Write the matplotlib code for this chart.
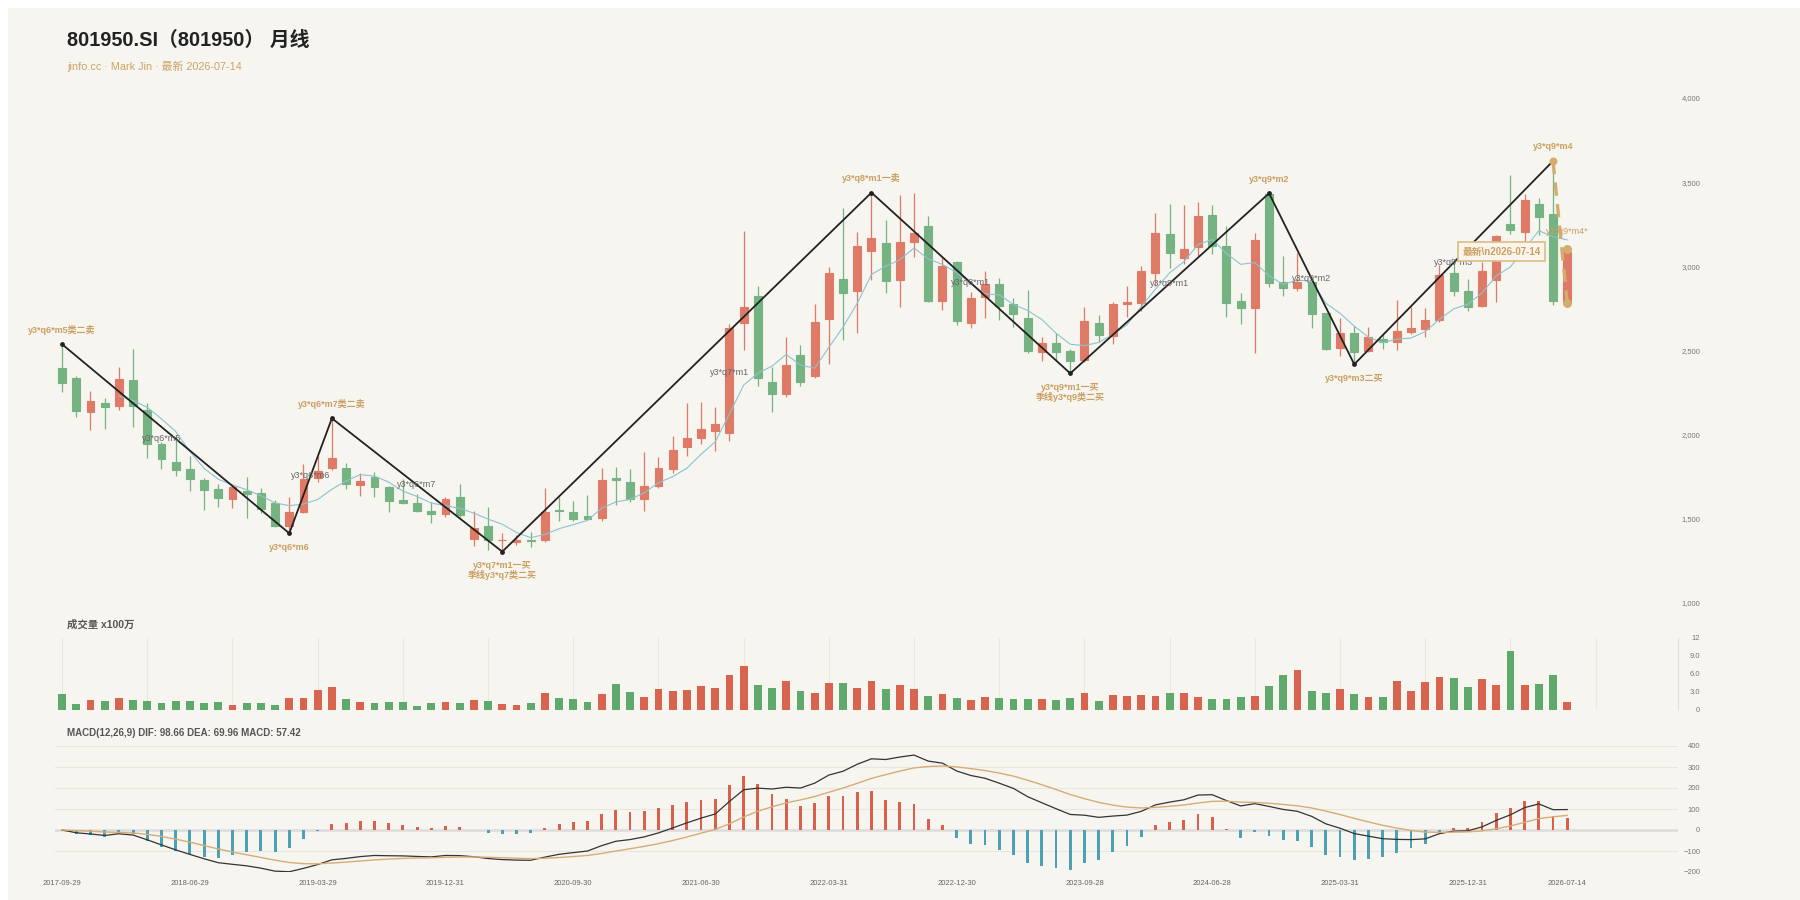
import numpy as np
import pandas as pd
import matplotlib
matplotlib.use('Agg')
import matplotlib.pyplot as plt
from matplotlib.patches import Rectangle
from matplotlib.ticker import FuncFormatter

plt.rcParams['font.family'] = ['Liberation Sans', 'Noto Sans CJK SC', 'DejaVu Sans']

# 月线 OHLC (2017-09 ~ 2026-07)
opens = [2394, 2335, 2137, 2188, 2172, 2325, 2147, 1945, 1840, 1794,
         1731, 1677, 1618, 1667, 1656, 1596, 1460, 1543, 1745, 1800,
         1800, 1699, 1750, 1687, 1612, 1592, 1547, 1529, 1628, 1378,
         1458, 1372, 1361, 1376, 1374, 1553, 1543, 1519, 1503, 1741,
         1721, 1616, 1697, 1796, 1929, 1978, 2024, 2012, 2661, 2826,
         2313, 2242, 2473, 2351, 2685, 2925, 2856, 3093, 3141, 2919,
         3147, 3240, 2796, 3028, 2665, 2816, 2893, 2778, 2691, 2489,
         2543, 2497, 2444, 2661, 2588, 2776, 2784, 2958, 3192, 3049,
         3117, 3305, 3121, 2796, 2751, 3430, 2905, 2869, 2909, 2725,
         2517, 2602, 2499, 2568, 2549, 2612, 2626, 2681, 2958, 2856,
         2766, 2919, 3251, 3206, 3368, 3309, 2784]
highs = [2537, 2349, 2262, 2220, 2400, 2509, 2186, 1959, 1988, 1873,
         1741, 1705, 1695, 1747, 1681, 1612, 1628, 1826, 1873, 2097,
         1830, 1774, 1780, 1695, 1735, 1646, 1602, 1628, 1707, 1547,
         1569, 1414, 1404, 1424, 1681, 1632, 1606, 1642, 1800, 1810,
         1794, 1899, 1869, 1992, 2186, 2196, 2163, 2658, 3212, 2885,
         2404, 2582, 2533, 2776, 2998, 3345, 3206, 3438, 3275, 3424,
         3434, 3299, 3057, 3034, 2850, 2972, 2929, 2810, 2859, 2578,
         2602, 2509, 2760, 2711, 2790, 2885, 3002, 3319, 3370, 3364,
         3380, 3364, 3240, 2840, 3200, 3434, 3061, 3081, 2919, 2725,
         2691, 2646, 2642, 2602, 2800, 2757, 2751, 3008, 3022, 2923,
         3028, 3186, 3543, 3430, 3404, 3626, 3101]
lows = [2252, 2103, 2028, 2036, 2147, 2044, 1860, 1794, 1755, 1667,
        1553, 1572, 1563, 1507, 1533, 1450, 1414, 1533, 1720, 1790,
        1675, 1636, 1632, 1539, 1586, 1539, 1473, 1513, 1510, 1339,
        1315, 1305, 1345, 1331, 1364, 1487, 1489, 1493, 1487, 1582,
        1602, 1547, 1681, 1770, 1875, 1945, 1905, 1964, 2503, 2291,
        2137, 2226, 2291, 2335, 2420, 2563, 2602, 2919, 2844, 2761,
        3054, 2786, 2741, 2652, 2632, 2695, 2681, 2638, 2487, 2438,
        2444, 2364, 2434, 2553, 2537, 2701, 2737, 2885, 2992, 3014,
        3061, 3071, 2701, 2657, 2487, 2879, 2826, 2856, 2636, 2503,
        2469, 2418, 2489, 2509, 2503, 2598, 2578, 2671, 2826, 2737,
        2761, 2790, 3192, 3147, 3186, 2770, 2780]
closes = [2309, 2143, 2200, 2165, 2331, 2172, 1945, 1856, 1790, 1737,
          1671, 1622, 1687, 1648, 1557, 1460, 1539, 1735, 1784, 1860,
          1707, 1727, 1691, 1606, 1592, 1549, 1529, 1618, 1523, 1448,
          1374, 1376, 1374, 1369, 1543, 1545, 1497, 1499, 1731, 1731,
          1618, 1695, 1800, 1909, 1982, 2032, 2066, 2632, 2760, 2339,
          2240, 2414, 2311, 2671, 2958, 2844, 3121, 3166, 2915, 3147,
          3196, 2796, 3002, 2675, 2814, 2896, 2766, 2717, 2497, 2543,
          2489, 2440, 2675, 2592, 2776, 2786, 2972, 3196, 3077, 3105,
          3299, 3121, 2780, 2755, 3157, 2903, 2869, 2909, 2715, 2509,
          2602, 2489, 2582, 2549, 2618, 2632, 2681, 2949, 2856, 2757,
          2972, 3182, 3216, 3394, 3295, 2794, 3087]
# 成交量 x100万
volumes = [2.67, 1.00, 1.67, 1.50, 2.00, 1.67, 1.44, 1.17, 1.50, 1.50,
           1.22, 1.39, 0.83, 1.17, 1.17, 0.89, 1.94, 1.94, 3.33, 3.83,
           1.89, 1.39, 1.22, 1.33, 1.33, 0.67, 1.17, 1.39, 1.22, 1.67,
           1.44, 1.00, 0.83, 1.17, 2.83, 1.94, 1.83, 1.33, 2.72, 4.33,
           3.00, 2.17, 3.44, 3.11, 3.33, 3.94, 3.67, 5.83, 7.33, 4.17,
           3.72, 4.83, 3.17, 2.89, 4.56, 4.44, 3.67, 4.89, 3.50, 4.11,
           3.56, 2.33, 2.67, 1.94, 1.61, 2.11, 1.94, 1.78, 1.78, 1.78,
           1.67, 2.00, 2.78, 1.56, 2.56, 2.28, 2.56, 2.33, 2.78, 2.78,
           2.11, 1.89, 1.89, 2.11, 2.28, 4.00, 5.83, 6.67, 3.17, 2.83,
           3.50, 2.72, 2.11, 2.17, 4.89, 3.11, 4.72, 5.56, 5.33, 3.83,
           5.11, 4.11, 9.78, 4.22, 4.28, 5.78, 1.28]

date_tick_idx = [0, 9, 18, 27, 36, 45, 54, 63, 72, 81, 90, 99, 106]
date_tick_lbl = ['2017-09-29', '2018-06-29', '2019-03-29', '2019-12-31', '2020-09-30',
                 '2021-06-30', '2022-03-31', '2022-12-30', '2023-09-28', '2024-06-28',
                 '2025-03-31', '2025-12-31', '2026-07-14']

# 笔的端点
pivot_idx = [0, 16, 19, 31, 57, 71, 85, 91, 105]
pivot_px = [2537, 1414, 2097, 1305, 3438, 2364, 3434, 2418, 3626]
pivot_txt = ['y3*q6*m5类二卖', 'y3*q6*m6', 'y3*q6*m7类二卖', 'y3*q7*m1一买\n季线y3*q7类二买',
             'y3*q8*m1一卖', 'y3*q9*m1一买\n季线y3*q9类二买', 'y3*q9*m2', 'y3*q9*m3二买', 'y3*q9*m4']
pivot_top = [True, False, True, False, True, False, True, False, True]
seg_txt = ['y3*q6*m5', 'y3*q6*m6', 'y3*q6*m7', 'y3*q7*m1', 'y3*q8*m1',
           'y3*q9*m1', 'y3*q9*m2', 'y3*q9*m3']
seg_lbl_x = [7, 17.5, 25, 47, 64, 78, 88, 98]
latest_idx, latest_px = 106, 2784
latest_lbl_x = 101.4

O, Hh, L, C = map(np.array, (opens, highs, lows, closes))
V = np.array(volumes)
n = len(C)
x = np.arange(n)

# 指标
cs = pd.Series(C, dtype=float)
ma5 = cs.rolling(5).mean()
dif = cs.ewm(span=12, adjust=False).mean() - cs.ewm(span=26, adjust=False).mean()
dea = dif.ewm(span=9, adjust=False).mean()
hist = 2 * (dif - dea)

RED_C, GRN_C = '#de7a66', '#76b382'
RED_V, GRN_V = '#d8634f', '#5ea96b'
TAN = '#c9a062'
W, H = 1800, 900


def rect(l, t, r, b):
    return [l / W, 1 - b / H, (r - l) / W, (b - t) / H]


fig = plt.figure(figsize=(18, 9), dpi=100, facecolor='white')
fig.patches.append(Rectangle((8 / W, 0), 1, 1 - 8 / H, transform=fig.transFigure,
                             facecolor='#f7f5f0', edgecolor='none', zorder=-10))

ax_p = fig.add_axes(rect(55, 98, 1678, 603))
ax_v = fig.add_axes(rect(55, 638, 1678, 710), sharex=ax_p)
ax_m = fig.add_axes(rect(55, 746, 1678, 872), sharex=ax_p)

for ax in (ax_p, ax_v, ax_m):
    ax.set_facecolor('none')
    for s in ax.spines.values():
        s.set_visible(False)
    ax.yaxis.tick_right()
    ax.tick_params(axis='y', length=0, labelsize=5.5, labelcolor='#777', pad=16)
    ax.tick_params(axis='x', length=0)
ax_p.set_xlim(-0.5, 113.8)

# K线
up = C >= O
ccol = np.where(up, RED_C, GRN_C)
ax_p.vlines(x, L, Hh, colors=ccol, lw=0.9, zorder=2)
ax_p.bar(x, np.abs(C - O), bottom=np.minimum(O, C), width=0.56, color=ccol,
         edgecolor=ccol, lw=0.8, zorder=3)
ax_p.plot(x, ma5, color='#8cc3cf', lw=0.8, zorder=4)

# 笔
ax_p.plot(pivot_idx, pivot_px, color='#222', lw=1.3, zorder=5)
ax_p.scatter(pivot_idx[:-1], pivot_px[:-1], s=6, color='#222', zorder=6)
ax_p.plot([pivot_idx[-1], latest_idx], [pivot_px[-1], latest_px], color='#d2ad6c',
          lw=2.4, ls=(0, (4, 2.5)), zorder=6)
ax_p.scatter([pivot_idx[-1]], [pivot_px[-1]], s=22, color='#d2ad6c', zorder=7)
ax_p.scatter([latest_idx, latest_idx], [Hh[-1], latest_px], s=30, color='#d2ad6c', zorder=7)

for i, p, t, top in zip(pivot_idx, pivot_px, pivot_txt, pivot_top):
    ax_p.annotate(t, (i, p), xytext=(0, 7 if top else -7), textcoords='offset points',
                  ha='center', va='bottom' if top else 'top', fontsize=6.5,
                  fontweight='bold', color=TAN, linespacing=1.0, zorder=8)

for k, (t, sx) in enumerate(zip(seg_txt, seg_lbl_x)):
    sy = (pivot_px[k] + pivot_px[k + 1]) / 2
    ax_p.text(sx, sy, t, ha='center', va='center', fontsize=6.5, color='#666', zorder=8)
ax_p.text((pivot_idx[-1] + latest_idx) / 2 + 0.5, (pivot_px[-1] + latest_px) / 2, 'y3*q9*m4*',
          ha='center', va='center', fontsize=6.5, color=TAN, zorder=8)

ax_p.text(latest_lbl_x, C[-1], '最新\\n2026-07-14', ha='center', va='center', fontsize=7,
          fontweight='bold', color=TAN, zorder=9,
          bbox=dict(boxstyle='square,pad=0.45', fc='#f9f5ec', ec='#dcbd86', lw=1.2))

ax_p.set_ylim(1000, 4000)
ax_p.set_yticks(range(1000, 4001, 500))
ax_p.yaxis.set_major_formatter(FuncFormatter(lambda v, _: f'{v:,.0f}'))
ax_p.tick_params(labelbottom=False)

# 成交量
vcol = np.where(up, RED_V, GRN_V)
ax_v.bar(x, V, width=0.55, color=vcol, zorder=3)
for k in range(0, 109, 6):
    ax_v.axvline(k, color='#ebe8e2', lw=0.8, zorder=0)
ax_v.spines['right'].set_visible(True)
ax_v.spines['right'].set_color('#e3e0d9')
ax_v.set_ylim(0, 12)
ax_v.set_yticks([0, 3, 6, 9, 12])
ax_v.set_yticklabels(['0', '3.0', '6.0', '9.0', '12'])
ax_v.tick_params(labelbottom=False)

# MACD
hcol = np.where(hist >= 0, '#d9604b', '#4aa2b4')
ax_m.bar(x, hist, width=0.2, color=hcol, zorder=3)
ax_m.plot(x, dif, color='#333', lw=0.9, zorder=4)
ax_m.plot(x, dea, color='#d6ad76', lw=1.0, zorder=4)
ax_m.axhline(0, color='#dcdcdc', lw=1.8, zorder=2)
ax_m.set_ylim(-200, 400)
ax_m.set_yticks(range(-200, 401, 100))
ax_m.grid(axis='y', color='#e9e6e0', lw=0.8, zorder=0)
ax_m.set_xticks(date_tick_idx)
ax_m.set_xticklabels(date_tick_lbl)
ax_m.tick_params(axis='x', labelsize=5.5, labelcolor='#666', pad=6)

for ax in (ax_p, ax_v, ax_m):
    for lab in ax.get_yticklabels():
        lab.set_ha('right')

fig.text(67 / W, 1 - 40 / H, '801950.SI（801950） 月线', fontsize=14.3, fontweight='bold',
         color='#222', va='center')
fig.text(67 / W, 1 - 66 / H, 'jinfo.cc · Mark Jin · 最新 2026-07-14', fontsize=7.8,
         color='#c9a468', va='center')
fig.text(67 / W, 1 - 625 / H, '成交量 x100万', fontsize=7.5, fontweight='bold',
         color='#555', va='center')
fig.text(67 / W, 1 - 733 / H, 'MACD(12,26,9) DIF: 98.66 DEA: 69.96 MACD: 57.42', fontsize=7,
         fontweight='bold', color='#555', va='center')

fig.savefig('out.png', dpi=100, facecolor=fig.get_facecolor())
